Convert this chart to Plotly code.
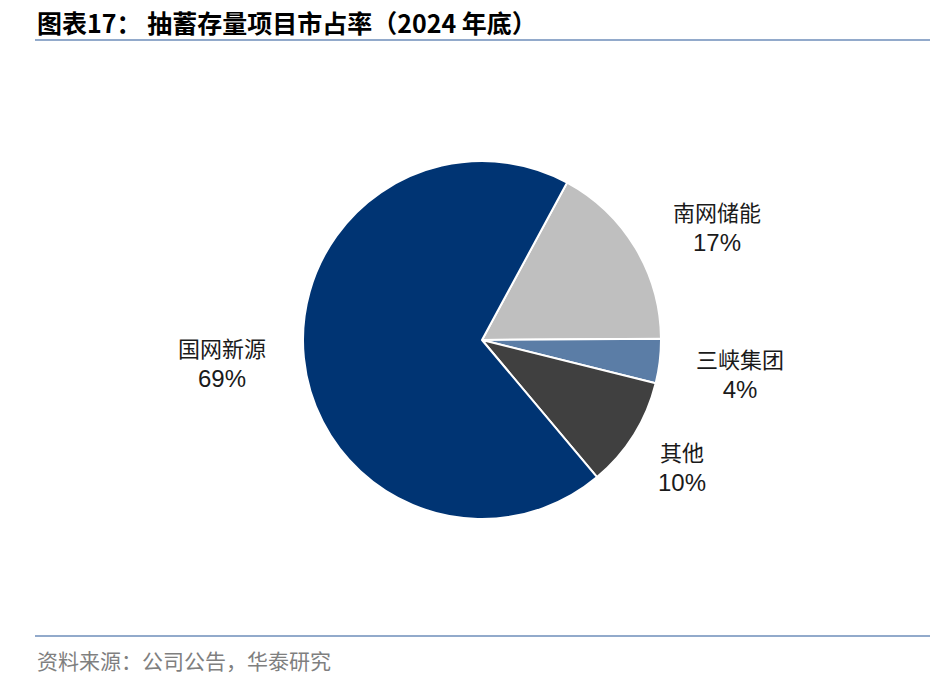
import math
import plotly.graph_objects as go

labels = ["南网储能", "三峡集团", "其他", "国网新源"]
values = [17, 4, 10, 69]
colors = ["#BFBFBF", "#5B7DA6", "#404040", "#003473"]

title = "图表17： 抽蓄存量项目市占率（2024 年底）"
source = "资料来源：公司公告，华泰研究"

W, H = 936, 680
cx, cy, R = 482, 340, 179
rotation = 28.4

fig = go.Figure(go.Pie(
    labels=labels, values=values, sort=False, direction="clockwise",
    rotation=rotation, textinfo="none", hoverinfo="label+percent",
    marker=dict(colors=colors, line=dict(color="white", width=2)),
    domain=dict(x=[(cx - R) / W, (cx + R) / W], y=[1 - (cy + R) / H, 1 - (cy - R) / H]),
    showlegend=False,
))

total = sum(values)
cum = 0
cjk = "Noto Sans CJK SC"
annotations = []
label_r = [1.46, 1.45, 1.32, 1.46]
label_da = [5.0, 0.3, 0.0, 1.0]
for i, (lab, v) in enumerate(zip(labels, values)):
    mid = rotation + (cum + v / 2) / total * 360 + label_da[i]
    cum += v
    a = math.radians(mid)
    px = cx + label_r[i] * R * math.sin(a)
    py = cy - label_r[i] * R * math.cos(a)
    pct = round(v / total * 100)
    annotations.append(dict(
        x=px / W, y=1 - py / H, xref="paper", yref="paper",
        text=(f"<span style='font-family:{cjk};font-size:22px'>{lab}</span><br>"
              f"<span style='font-size:24px'>{pct}%</span>"),
        showarrow=False, xanchor="center", yanchor="middle",
        font=dict(family="Liberation Sans, Arial", size=23, color="#1A1A1A"),
    ))

annotations.append(dict(
    x=35 / W, y=1 - 22 / H, xref="paper", yref="paper", xanchor="left", yanchor="middle",
    text=f"<b>{title}</b>", showarrow=False,
    font=dict(family=cjk, size=25, color="#000000"),
))
annotations.append(dict(
    x=35 / W, y=1 - 660 / H, xref="paper", yref="paper", xanchor="left", yanchor="middle",
    text=source, showarrow=False,
    font=dict(family=cjk, size=21, color="#7F7F7F"),
))

shapes = [
    dict(type="line", xref="paper", yref="paper", x0=35 / W, x1=930 / W,
         y0=1 - 40 / H, y1=1 - 40 / H, line=dict(color="#92AACB", width=2)),
    dict(type="line", xref="paper", yref="paper", x0=35 / W, x1=930 / W,
         y0=1 - 636 / H, y1=1 - 636 / H, line=dict(color="#92AACB", width=2)),
]

fig.update_layout(
    width=W, height=H, margin=dict(l=0, r=0, t=0, b=0),
    paper_bgcolor="white", plot_bgcolor="white",
    annotations=annotations, shapes=shapes,
)

fig.write_html("out.html")
